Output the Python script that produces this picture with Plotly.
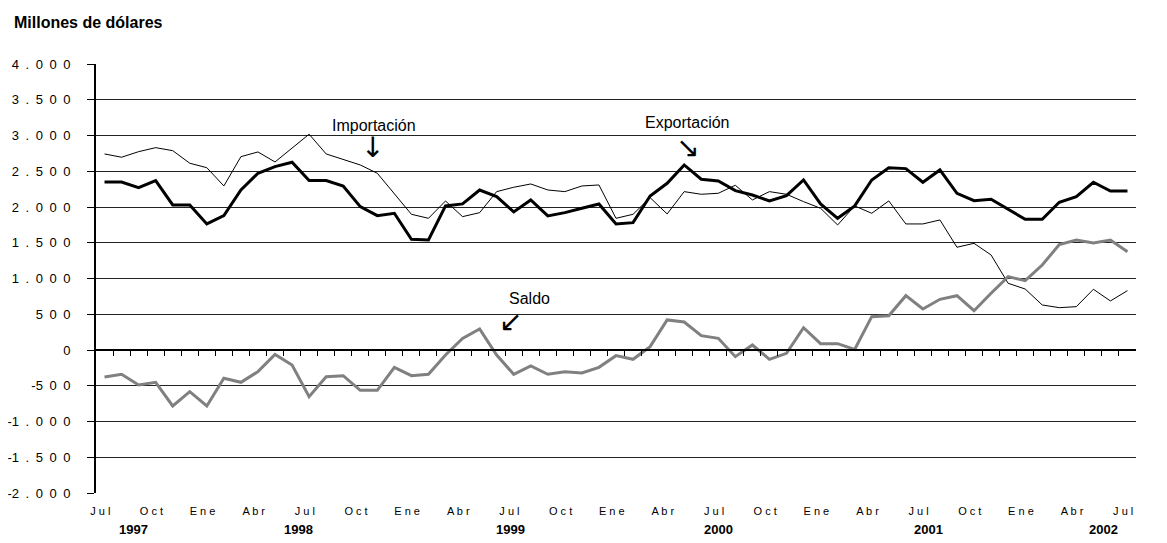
import plotly.graph_objects as go

# Monthly data, Jul 1997 .. Jul 2002 (millions of dollars)
exportacion = [2350, 2350, 2271, 2369, 2029, 2029, 1763, 1879, 2238, 2472, 2565, 2626, 2369, 2369,
               2294, 2005, 1879, 1912, 1549, 1539, 2015, 2043, 2238, 2145, 1931, 2099, 1875, 1921,
               1982, 2043, 1763, 1781, 2154, 2332, 2588, 2388, 2364, 2229, 2168, 2085, 2159, 2378,
               2043, 1842, 2015, 2378, 2550, 2537, 2346, 2518, 2192, 2089, 2108, 1968, 1828, 1828,
               2066, 2145, 2346, 2224, 2224]
importacion = [2742, 2696, 2774, 2830, 2788, 2612, 2550, 2294, 2704, 2770, 2630, 2822, 3018, 2742,
               2668, 2588, 2472, 2182, 1898, 1842, 2084, 1865, 1921, 2215, 2276, 2322, 2238, 2215,
               2294, 2308, 1842, 1898, 2131, 1903, 2215, 2178, 2192, 2304, 2099, 2215, 2178, 2075,
               1982, 1749, 2015, 1912, 2085, 1763, 1763, 1819, 1437, 1492, 1329, 933, 853, 630,
               592, 606, 849, 686, 830]
saldo = [-378, -340, -490, -452, -783, -583, -783, -396, -452, -303, -61, -210, -653, -373,
         -359, -564, -564, -242, -359, -340, -69, 163, 294, -70, -340, -224, -340, -303,
         -322, -242, -79, -130, 47, 420, 392, 201, 163, -93, 70, -130, -47, 312,
         89, 89, 9, 466, 480, 760, 574, 709, 760, 550, 793, 1026, 970, 1189,
         1474, 1539, 1497, 1538, 1374]

meses = ["Jul", "Oct", "Ene", "Abr"]
month_labels = [meses[i % 4] for i in range(21)]
years = ["1997", "1998", "1999", "2000", "2001", "2002"]
y_ticks = [4000, 3500, 3000, 2500, 2000, 1500, 1000, 500, 0, -500, -1000, -1500, -2000]

n = len(exportacion)
x = list(range(n))

def spaced(s):
    return " ".join(list(s))

def fmt(v):
    s = "\u2002".join(list(f"{abs(v):,}".replace(",", ".")))
    return ("-" + s) if v < 0 else s

year_pos = [1.67, 11.35, 23.8, 36.0, 48.3, 58.6]

fig = go.Figure()
fig.add_trace(go.Scatter(x=x, y=importacion, mode="lines", line=dict(color="black", width=1),
                         name="Importación", showlegend=False))
fig.add_trace(go.Scatter(x=x, y=saldo, mode="lines", line=dict(color="#808080", width=3),
                         name="Saldo", showlegend=False))
fig.add_trace(go.Scatter(x=x, y=exportacion, mode="lines", line=dict(color="black", width=3),
                         name="Exportación", showlegend=False))
fig.add_trace(go.Scatter(x=[0], y=[None], xaxis="x2", mode="lines", showlegend=False,
                         hoverinfo="skip"))

fig.update_layout(
    width=1167, height=543,
    margin=dict(l=88, r=39, t=56, b=58),
    paper_bgcolor="white", plot_bgcolor="white",
    font=dict(family="Liberation Sans, Arial, sans-serif", color="black"),
    showlegend=False,
    xaxis=dict(range=[-0.5, n - 0.5], anchor="free", position=1/3, automargin=False,
               showline=True, linecolor="black", linewidth=1.5,
               tickvals=[i + 0.5 for i in range(n - 1)], ticks="outside", ticklen=5,
               tickcolor="black", tickwidth=1, showticklabels=False, showgrid=False,
               zeroline=False),
    xaxis2=dict(range=[-0.5, n - 0.5], overlaying="x", anchor="y", side="bottom",
                automargin=False,
                tickvals=[3 * i - 0.25 for i in range(21)],
                ticktext=[spaced(m) for m in month_labels],
                ticks="", showline=False, showgrid=False, zeroline=False,
                tickfont=dict(size=11), ticklabelstandoff=10),
    yaxis=dict(range=[-2000, 4000], tickvals=y_ticks, ticktext=[fmt(v) for v in y_ticks],
               automargin=False,
               showline=True, linecolor="black", linewidth=2, ticks="outside", ticklen=7,
               tickcolor="black", showgrid=True, gridcolor="#222", gridwidth=1,
               zeroline=False, tickfont=dict(size=13), ticklabelstandoff=14),
)

for yr, pos in zip(years, year_pos):
    fig.add_annotation(x=pos, y=-0.086, xref="x", yref="paper", text=f"<b>{yr}</b>",
                       showarrow=False, font=dict(size=13), yanchor="middle")

fig.add_annotation(x=-0.0808, y=1.0956, xref="paper", yref="paper",
                   text="<b>Millones de dólares</b>", showarrow=False,
                   font=dict(size=16), xanchor="left", yanchor="middle")

labels = [("Importación", 15.8, 3134, "↓", 15.7, 2826),
          ("Exportación", 34.2, 3176, "↘", 34.2, 2826),
          ("Saldo", 24.95, 727, "↙", 23.8, 392)]
for txt, tx, ty, arr, ax_, ay_ in labels:
    fig.add_annotation(x=tx, y=ty, xref="x", yref="y", text=txt, showarrow=False,
                       font=dict(size=16))
    fig.add_annotation(x=ax_, y=ay_, xref="x", yref="y", text=arr, showarrow=False,
                       font=dict(size=28, family="DejaVu Sans"))

fig.write_html("out.html")
